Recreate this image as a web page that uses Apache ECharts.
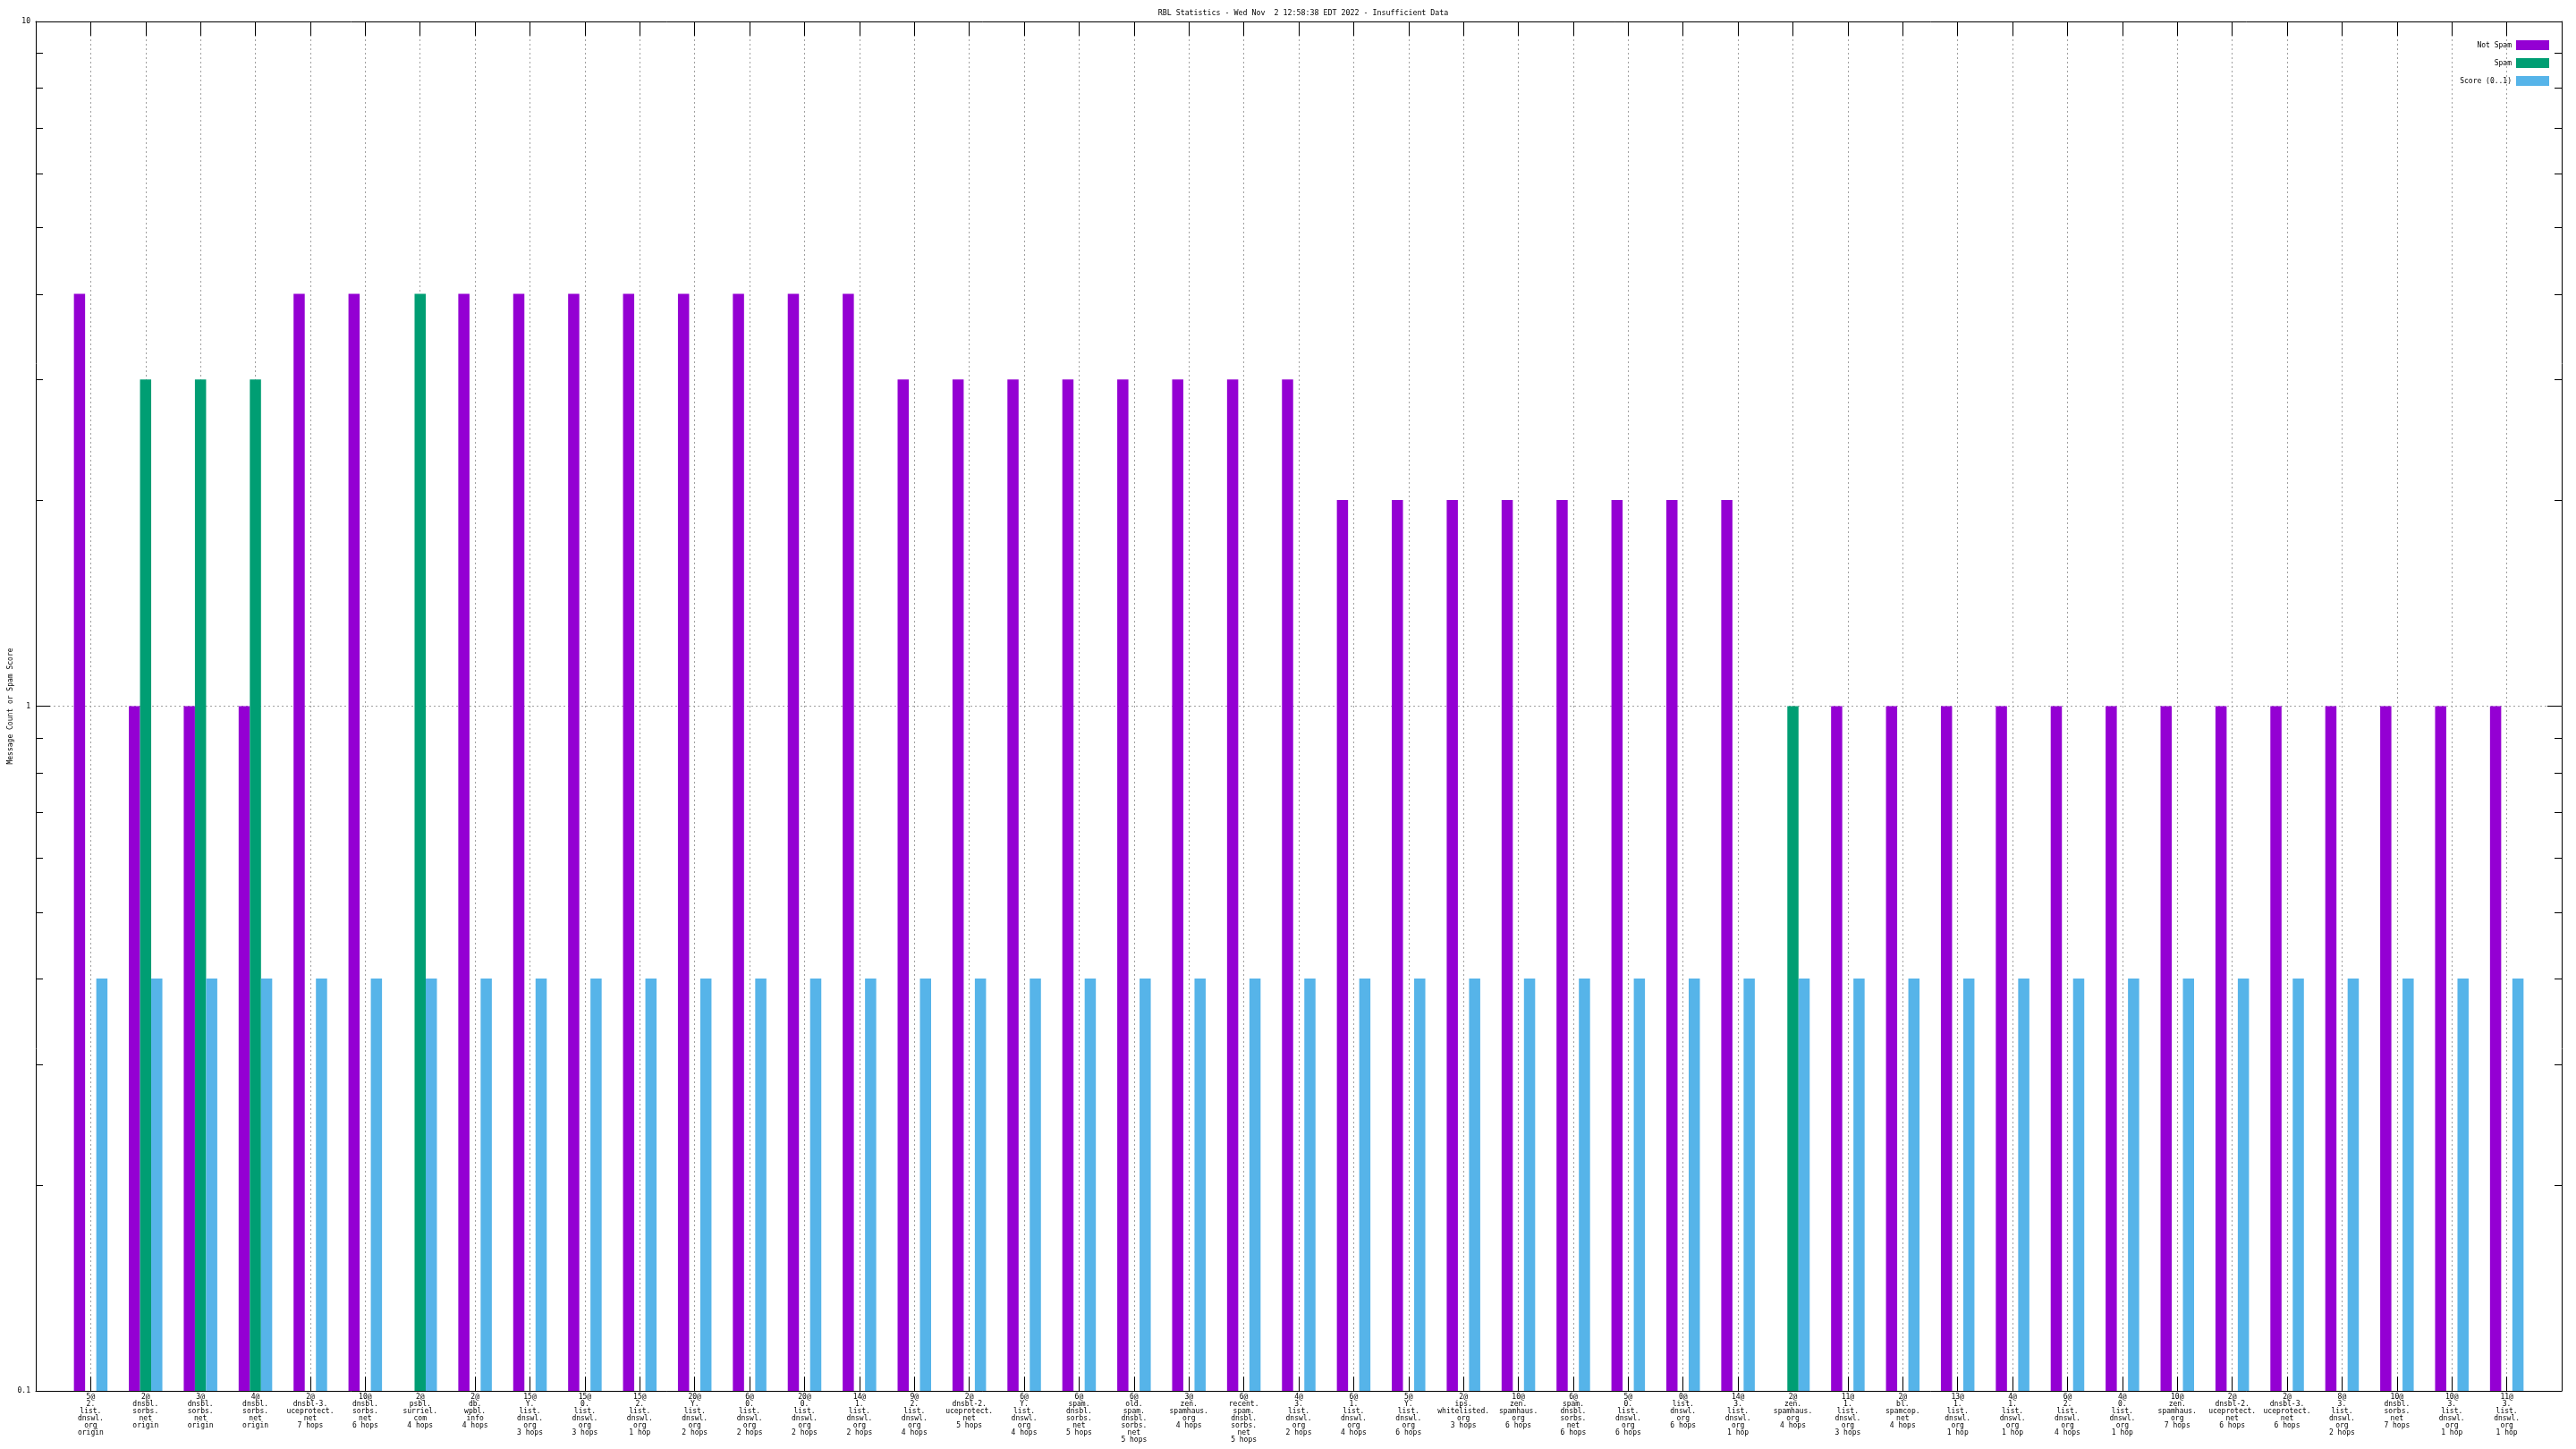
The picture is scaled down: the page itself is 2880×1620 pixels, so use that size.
<!DOCTYPE html>
<html><head><meta charset="utf-8">
<script src="https://cdn.jsdelivr.net/npm/echarts@6/dist/echarts.min.js"></script>
<style>html,body{margin:0;padding:0;background:#fff}#c{width:2880px;height:1620px}</style>
</head><body><div id="c"></div>
<script>
const titleText = 'RBL Statistics - Wed Nov  2 12:58:38 EDT 2022 - Insufficient Data';
const yAxisName = 'Message Count or Spam Score';
const seriesNames = ['Not Spam', 'Spam', 'Score (0..1)'];
const seriesColors = ['#9400d3', '#009e73', '#56b4e9'];
const categories = [
  '5@\n2.\nlist.\ndnswl.\norg\norigin',
  '2@\ndnsbl.\nsorbs.\nnet\norigin',
  '3@\ndnsbl.\nsorbs.\nnet\norigin',
  '4@\ndnsbl.\nsorbs.\nnet\norigin',
  '2@\ndnsbl-3.\nuceprotect.\nnet\n7 hops',
  '10@\ndnsbl.\nsorbs.\nnet\n6 hops',
  '2@\npsbl.\nsurriel.\ncom\n4 hops',
  '2@\ndb.\nwpbl.\ninfo\n4 hops',
  '15@\nY.\nlist.\ndnswl.\norg\n3 hops',
  '15@\n0.\nlist.\ndnswl.\norg\n3 hops',
  '15@\n2.\nlist.\ndnswl.\norg\n1 hop',
  '20@\nY.\nlist.\ndnswl.\norg\n2 hops',
  '6@\n0.\nlist.\ndnswl.\norg\n2 hops',
  '20@\n0.\nlist.\ndnswl.\norg\n2 hops',
  '14@\n1.\nlist.\ndnswl.\norg\n2 hops',
  '9@\n2.\nlist.\ndnswl.\norg\n4 hops',
  '2@\ndnsbl-2.\nuceprotect.\nnet\n5 hops',
  '6@\nY.\nlist.\ndnswl.\norg\n4 hops',
  '6@\nspam.\ndnsbl.\nsorbs.\nnet\n5 hops',
  '6@\nold.\nspam.\ndnsbl.\nsorbs.\nnet\n5 hops',
  '3@\nzen.\nspamhaus.\norg\n4 hops',
  '6@\nrecent.\nspam.\ndnsbl.\nsorbs.\nnet\n5 hops',
  '4@\n3.\nlist.\ndnswl.\norg\n2 hops',
  '6@\n1.\nlist.\ndnswl.\norg\n4 hops',
  '5@\nY.\nlist.\ndnswl.\norg\n6 hops',
  '2@\nips.\nwhitelisted.\norg\n3 hops',
  '10@\nzen.\nspamhaus.\norg\n6 hops',
  '6@\nspam.\ndnsbl.\nsorbs.\nnet\n6 hops',
  '5@\n0.\nlist.\ndnswl.\norg\n6 hops',
  '0@\nlist.\ndnswl.\norg\n6 hops',
  '14@\n3.\nlist.\ndnswl.\norg\n1 hop',
  '2@\nzen.\nspamhaus.\norg\n4 hops',
  '11@\n1.\nlist.\ndnswl.\norg\n3 hops',
  '2@\nbl.\nspamcop.\nnet\n4 hops',
  '13@\n1.\nlist.\ndnswl.\norg\n1 hop',
  '4@\n1.\nlist.\ndnswl.\norg\n1 hop',
  '6@\n2.\nlist.\ndnswl.\norg\n4 hops',
  '4@\n0.\nlist.\ndnswl.\norg\n1 hop',
  '10@\nzen.\nspamhaus.\norg\n7 hops',
  '2@\ndnsbl-2.\nuceprotect.\nnet\n6 hops',
  '2@\ndnsbl-3.\nuceprotect.\nnet\n6 hops',
  '8@\n3.\nlist.\ndnswl.\norg\n2 hops',
  '10@\ndnsbl.\nsorbs.\nnet\n7 hops',
  '10@\n3.\nlist.\ndnswl.\norg\n1 hop',
  '11@\n3.\nlist.\ndnswl.\norg\n1 hop'
];
const notSpam = [4,1,1,1,4,4,null,4,4,4,4,4,4,4,4,3,3,3,3,3,3,3,3,2,2,2,2,2,2,2,2,null,1,1,1,1,1,1,1,1,1,1,1,1,1];
const spam = [null,3,3,3,null,null,4,null,null,null,null,null,null,null,null,null,null,null,null,null,null,null,null,null,null,null,null,null,null,null,null,1,null,null,null,null,null,null,null,null,null,null,null,null,null];
const score = [0.4,0.4,0.4,0.4,0.4,0.4,0.4,0.4,0.4,0.4,0.4,0.4,0.4,0.4,0.4,0.4,0.4,0.4,0.4,0.4,0.4,0.4,0.4,0.4,0.4,0.4,0.4,0.4,0.4,0.4,0.4,0.4,0.4,0.4,0.4,0.4,0.4,0.4,0.4,0.4,0.4,0.4,0.4,0.4,0.4];
const yMin = 0.1, yMax = 10;
const minorTickValues = [0.2,0.3,0.4,0.5,0.6,0.7,0.8,0.9,2,3,4,5,6,7,8,9];

const FONT = 'DejaVu Sans Mono';
const GRID = {left: 40, right: 16, top: 24, bottom: 65};
const BAR_FRACTION = 0.2036;
const axisCats = [''].concat(categories, ['']);
const dotted = {color: '#a0a0a0', width: 1, type: [2, 3]};

function makeRender(slot) {
  return function (params, api) {
    const v = api.value(1);
    if (!(v > 0)) return null;
    const xi = api.value(0);
    const top = api.coord([xi, v]);
    const base = api.coord([xi, yMin]);
    const band = Math.abs(api.coord([2, yMin])[0] - api.coord([1, yMin])[0]);
    const bw = band * BAR_FRACTION;
    return {
      type: 'rect',
      shape: {x: top[0] + slot * bw - bw / 2, y: top[1], width: bw, height: base[1] - top[1]},
      style: {fill: api.visual('color')}
    };
  };
}
function toData(arr) { return arr.map((v, i) => [i + 1, v == null ? '-' : v]); }

const chart = echarts.init(document.getElementById('c'), null, {renderer: 'canvas'});
const seriesValues = [notSpam, spam, score];
chart.setOption({
  animation: false,
  backgroundColor: '#fff',
  title: {
    text: titleText, left: 1452, top: 6, textAlign: 'center',
    textStyle: {fontFamily: FONT, fontSize: 8.3, fontWeight: 'normal', color: '#000'}
  },
  legend: {
    orient: 'vertical', right: 25, top: 40, align: 'right',
    itemWidth: 37, itemHeight: 11, itemGap: 9,
    data: seriesNames.map(n => ({name: n, icon: 'rect'})),
    textStyle: {fontFamily: FONT, fontSize: 8, color: '#000'}
  },
  grid: Object.assign({containLabel: false, outerBoundsMode: 'none'}, GRID),
  xAxis: [{
    type: 'category', data: axisCats, boundaryGap: false, position: 'bottom',
    axisLine: {lineStyle: {color: '#000', width: 1}},
    axisTick: {show: true, inside: true, length: 16, interval: 0, lineStyle: {color: '#000'}},
    axisLabel: {interval: 0, fontFamily: FONT, fontSize: 8, lineHeight: 8, color: '#000', margin: 3, hideOverlap: false},
    splitLine: {show: true, interval: 0, lineStyle: dotted}
  }, {
    type: 'category', data: axisCats, boundaryGap: false, position: 'top',
    axisLine: {lineStyle: {color: '#000', width: 1}},
    axisTick: {show: true, inside: true, length: 16, interval: 0, lineStyle: {color: '#000'}},
    axisLabel: {show: false}, splitLine: {show: false}
  }],
  yAxis: [{
    type: 'log', logBase: 10, min: yMin, max: yMax, position: 'left',
    name: yAxisName, nameLocation: 'middle', nameGap: 24, nameRotate: 90, nameMoveOverlap: false,
    nameTextStyle: {fontFamily: FONT, fontSize: 8, color: '#000'},
    axisLine: {show: true, lineStyle: {color: '#000', width: 1}},
    axisTick: {show: true, inside: true, length: 16, lineStyle: {color: '#000'}},
    axisLabel: {fontFamily: FONT, fontSize: 8, color: '#000', margin: 6,
      formatter: v => String(+(+v).toPrecision(3))},
    splitLine: {show: true, lineStyle: dotted}
  }, {
    type: 'log', logBase: 10, min: yMin, max: yMax, position: 'right',
    axisLine: {show: true, lineStyle: {color: '#000', width: 1}},
    axisTick: {show: true, inside: true, length: 16, lineStyle: {color: '#000'}},
    axisLabel: {show: false}, splitLine: {show: false}
  }],
  series: seriesNames.map((name, k) => ({
    name, type: 'custom', xAxisIndex: 0, yAxisIndex: 0,
    itemStyle: {color: seriesColors[k]},
    encode: {x: 0, y: 1},
    renderItem: makeRender(k - 1),
    data: toData(seriesValues[k])
  }))
});

// minor log ticks (2..9 per decade) on both sides, positioned by the axis scale
const L = GRID.left, R = 2880 - GRID.right;
const g = [];
minorTickValues.forEach(v => {
  const y = Math.round(chart.convertToPixel({yAxisIndex: 0}, v)) + 0.5;
  g.push({type: 'line', shape: {x1: L, y1: y, x2: L + 8, y2: y}, style: {stroke: '#000', lineWidth: 1}, z: 10});
  g.push({type: 'line', shape: {x1: R - 8, y1: y, x2: R, y2: y}, style: {stroke: '#000', lineWidth: 1}, z: 10});
});
chart.setOption({graphic: g});
</script>
</body></html>
